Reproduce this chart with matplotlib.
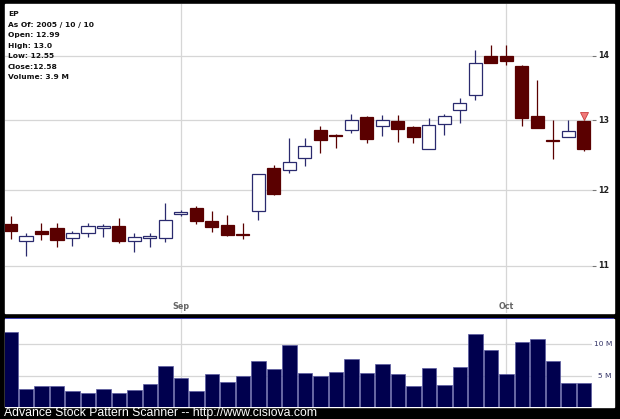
import numpy as np
import matplotlib
matplotlib.use("Agg")
import matplotlib.pyplot as plt
from matplotlib.patches import Rectangle
from matplotlib.ticker import NullLocator, NullFormatter

# ── data ─────────────────────────────────────────────────────
opens  = [11.54, 11.32, 11.45, 11.49, 11.36, 11.43, 11.49, 11.52, 11.32, 11.36,
          11.36, 11.68, 11.76, 11.58, 11.53, 11.41, 11.71, 12.31, 12.28, 12.45,
          12.85, 12.79, 12.85, 13.05, 12.92, 12.99, 12.90, 12.58, 12.94, 13.15,
          13.38, 14.00, 14.00, 13.84, 13.07, 12.71, 12.75, 12.99]
highs  = [11.65, 11.43, 11.56, 11.55, 11.45, 11.55, 11.54, 11.62, 11.43, 11.42,
          11.83, 11.73, 11.78, 11.71, 11.66, 11.55, 12.23, 12.35, 12.74, 12.74,
          12.92, 12.80, 13.10, 13.06, 13.08, 13.08, 12.92, 13.03, 13.10, 13.34,
          14.09, 14.18, 14.18, 13.85, 13.62, 13.00, 13.00, 13.00]
lows   = [11.35, 11.12, 11.33, 11.24, 11.26, 11.37, 11.37, 11.29, 11.18, 11.24,
          11.30, 11.65, 11.54, 11.44, 11.39, 11.34, 11.60, 11.93, 12.24, 12.34,
          12.52, 12.60, 12.81, 12.66, 12.77, 12.68, 12.66, 12.58, 12.79, 12.96,
          13.31, 13.88, 13.85, 12.92, 12.88, 12.43, 12.75, 12.55]
closes = [11.45, 11.38, 11.41, 11.33, 11.43, 11.51, 11.52, 11.32, 11.37, 11.38,
          11.60, 11.70, 11.58, 11.50, 11.40, 11.40, 12.22, 11.94, 12.39, 12.62,
          12.71, 12.77, 13.01, 12.73, 13.01, 12.87, 12.75, 12.93, 13.07, 13.26,
          13.89, 13.89, 13.92, 13.04, 12.89, 12.70, 12.84, 12.58]
volumes = [11.9, 2.9, 3.3, 3.4, 2.6, 2.2, 2.9, 2.3, 2.8, 3.7,
           6.5, 4.7, 2.5, 5.3, 4.0, 4.9, 7.3, 6.1, 9.8, 5.4,
           5.0, 5.6, 7.7, 5.4, 6.8, 5.3, 3.4, 6.2, 3.5, 6.4,
           11.6, 9.1, 5.3, 10.3, 10.8, 7.3, 3.9, 3.9]   # millions

month_pos    = [11, 32]
month_labels = ["Sep", "Oct"]
price_ticks  = [11, 12, 13, 14]
vol_ticks    = [5, 10]
vol_labels   = ["5 M", "10 M"]

info_lines = ["EP", "As Of: 2005 / 10 / 10", "Open: 12.99", "High: 13.0",
              "Low: 12.55", "Close:12.58", "Volume: 3.9 M"]
footer = "Advance Stock Pattern Scanner -- http://www.cisiova.com"

DOWN  = "#5a0000"
UPEDG = "#2a2a6e"
VOLC  = "#00004e"
GRID  = "#d6d6d6"

W, H = 620, 419
fig = plt.figure(figsize=(W / 100, H / 100), dpi=100, facecolor="black")

def fx(px):
    return px / W

def fy(py):
    return 1 - py / H

# white panels (they run past the axes to hold the right-hand labels)
for top, bot in [(4, 313.3), (319, 407.3)]:
    fig.patches.append(Rectangle((fx(5), fy(bot)), fx(609), (bot - top) / H,
                                 transform=fig.transFigure, color="white", zorder=-2))
fig.patches.append(Rectangle((fx(5), fy(319)), fx(609), 1.0 / H,
                             transform=fig.transFigure, color="#4444b8", zorder=-1,
                             linewidth=0))

x = np.arange(len(opens))
xlim = (-0.355, 37.52)

# ── price panel ─────────────────────────────────────────────
ax = fig.add_axes([fx(5), fy(313.3), fx(587), 309.3 / H])
ax.set_facecolor("none")
ax.set_yscale("log")
ax.set_xlim(*xlim)
ax.set_ylim(10.418, 14.857)
ax.yaxis.set_minor_locator(NullLocator())
ax.yaxis.set_minor_formatter(NullFormatter())
ax.set_yticks(price_ticks)
ax.set_yticklabels([])
ax.set_xticks([])
ax.tick_params(axis="y", left=False, right=True, length=3, color="#777777")
for s in ax.spines.values():
    s.set_visible(False)

for p in price_ticks:
    ax.axhline(p, color=GRID, lw=0.9, zorder=1)
    ax.text(1.01, p, str(p), transform=ax.get_yaxis_transform(),
            ha="left", va="center", fontsize=5.8, fontweight="bold", color="#222222")
for m, lab in zip(month_pos, month_labels):
    ax.axvline(m, color=GRID, lw=0.9, zorder=1)
    ax.text(m, 0.006, lab, transform=ax.get_xaxis_transform(),
            ha="center", va="bottom", fontsize=5.8, fontweight="bold", color="#666666")

for i in range(len(opens)):
    o, h, l, c = opens[i], highs[i], lows[i], closes[i]
    up = c >= o
    col = UPEDG if up else DOWN
    ax.vlines(x[i], l, h, color=col, lw=0.9, zorder=2)
    ax.bar(x[i], abs(c - o), bottom=min(o, c), width=0.84,
           color="white" if up else DOWN, edgecolor=col, linewidth=0.9, zorder=3)

ax.plot(x[-1], 13.07, marker="v", ms=5.5, color="#f07878",
        markeredgecolor="#c84040", markeredgewidth=0.6, zorder=4)

for k, line in enumerate(info_lines):
    fig.text(fx(8), fy(14 + 10.55 * k), line, ha="left", va="center",
             fontsize=5.4, fontweight="bold", color="#111111")

# ── volume panel ────────────────────────────────────────────
axv = fig.add_axes([fx(5), fy(407.3), fx(587), 88.3 / H])
axv.set_facecolor("none")
axv.set_xlim(*xlim)
axv.set_ylim(0, 13.97)
axv.set_xticks([])
axv.set_yticks([])
for s in axv.spines.values():
    s.set_visible(False)
for v in vol_ticks:
    axv.axhline(v, color=GRID, lw=0.9, zorder=1)
for v, lab in zip(vol_ticks, vol_labels):
    axv.text(607 / 587, v, lab, transform=axv.get_yaxis_transform(),
             ha="right", va="center", fontsize=5.4, color="#333366")
for m in month_pos:
    axv.axvline(m, color=GRID, lw=0.9, zorder=1)
axv.bar(x, volumes, width=0.96, color=VOLC, edgecolor="#5a5aa0",
        linewidth=0.5, zorder=2)

fig.text(fx(4), fy(412.5), footer, ha="left", va="center",
         fontsize=8.85, color="white", family="Liberation Sans")

fig.savefig("out.png", dpi=100, facecolor="black")
